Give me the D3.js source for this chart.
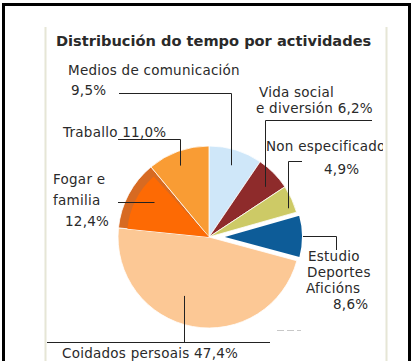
<!DOCTYPE html>
<html>
<head>
<meta charset="utf-8">
<script src="https://cdn.jsdelivr.net/npm/d3@7"></script>
<style>
  html, body { margin: 0; padding: 0; background: #fff; }
  svg { display: block; }
  text { font-family: "DejaVu Sans", Verdana, sans-serif; fill: #2a2a2a; }
</style>
</head>
<body>
<svg id="chart" width="412" height="361"></svg>
<script>
// Time distribution by activity (percent of the day)
const categories = [
  "Medios de comunicación",
  "Vida social e diversión",
  "Non especificado",
  "Estudio Deportes Aficións",
  "Coidados persoais",
  "Fogar e familia",
  "Traballo"
];
const values = [9.5, 6.2, 4.9, 8.6, 47.4, 12.4, 11.0];
const colors = ["#cfe7f9", "#8e2b2b", "#cdca66", "#0d5c98", "#fcc895", "#d76a22", "#f99c34"];
const valueLabels = values.map(v => v.toFixed(1).replace(".", ",") + "%");

const svg = d3.select("#chart");
const W = 412, H = 361;

// outer black frame (left, top, right)
svg.append("path")
  .attr("d", `M3.5,${H} V4.5 H409.5 V${H}`)
  .attr("fill", "none").attr("stroke", "#000").attr("stroke-width", 3);

// inner panel edges
svg.append("line").attr("x1", 45.5).attr("x2", 45.5).attr("y1", 27).attr("y2", H)
  .attr("stroke", "#e6e6d6").attr("stroke-width", 2);
svg.append("line").attr("x1", 386.5).attr("x2", 386.5).attr("y1", 27).attr("y2", H)
  .attr("stroke", "#e6e6d6").attr("stroke-width", 2);

// title
svg.append("text")
  .attr("x", 56).attr("y", 46)
  .attr("font-size", 14.6).attr("font-weight", "bold")
  .text("Distribución do tempo por actividades");

// pie
const cx = 209, cy = 237, R = 91;
const pie = d3.pie().sort(null).value(d => d).startAngle(0).endAngle(2 * Math.PI);
const arcs = pie(values);
const explodeIndex = 3, explodeOffset = 12, explodeRadius = 82;

const g = svg.append("g").attr("transform", `translate(${cx},${cy})`);

arcs.forEach((a, i) => {
  let dx = 0, dy = 0, rr = R;
  if (i === explodeIndex) {
    const mid = (a.startAngle + a.endAngle) / 2;
    dx = explodeOffset * Math.sin(mid);
    dy = -explodeOffset * Math.cos(mid);
    rr = explodeRadius;
  }
  g.append("path")
    .attr("d", d3.arc().innerRadius(0).outerRadius(rr)(a))
    .attr("transform", `translate(${dx},${dy})`)
    .attr("fill", colors[i])
    .attr("stroke", "#fff").attr("stroke-width", i === explodeIndex ? 2 : 0.8)
    .attr("stroke-linejoin", "round");
});

// brighter inner face of the "Fogar e familia" wedge
{
  const a = arcs[5];
  const inner = { startAngle: a.startAngle, endAngle: a.endAngle - 0.05 };
  g.append("path")
    .attr("d", d3.arc().innerRadius(0).outerRadius(R - 9)(inner))
    .attr("fill", "#fd6a04");
}

// point on the pie at a given angle (degrees clockwise from 12 o'clock) and radius
function polar(deg, r) {
  const t = deg * Math.PI / 180;
  return [cx + r * Math.sin(t), cy - r * Math.cos(t)];
}

// labels: text lines and leader lines
const labelLayout = [
  { lines: [["Medios de comunicación", 68, 75], [valueLabels[0], 71, 95]],
    anchor: [17, 75], hx: 119, hy: 93.5 },
  { lines: [["Vida social", 259, 97], ["e diversión " + valueLabels[1], 256, 113]],
    anchor: [48, 75], hx: 372, hy: 120.5 },
  { lines: [["Non especificado", 266, 151], [valueLabels[2], 324, 174]],
    anchor: [70, 84], hx: 302, hy: 161.5 },
  { lines: [["Estudio", 308, 261], ["Deportes", 307, 277], ["Aficións", 306, 293], [valueLabels[3], 333, 309]],
    anchor: null },
  { lines: [["Coidados persoais " + valueLabels[4], 62, 358]],
    anchor: [203, 64], hx: 47, hx2: 270, hy: 342.5 },
  { lines: [["Fogar e", 53, 184], ["familia", 53, 205], [valueLabels[5], 65, 226]],
    anchor: [303, 66], hx: 118, hy: 202.5, flat: true },
  { lines: [["Traballo " + valueLabels[6], 63, 137]],
    anchor: [338, 77], hx: 118, hy: 139.5 }
];

// clip for text that runs past the panel edge
svg.append("clipPath").attr("id", "panel")
  .append("rect").attr("x", 46).attr("y", 0).attr("width", 337).attr("height", H);

const labels = svg.append("g").attr("clip-path", "url(#panel)");
const leaders = svg.append("g").attr("fill", "none").attr("stroke", "#222").attr("stroke-width", 1);

labelLayout.forEach((L, i) => {
  L.lines.forEach(([t, x, y]) => {
    labels.append("text").attr("x", x).attr("y", y)
      .attr("font-size", 13.5).attr("letter-spacing", 0.25).text(t);
  });
  if (L.anchor) {
    const [ax, ay] = polar(L.anchor[0], L.anchor[1]);
    const axr = Math.round(ax) + 0.5;
    if (L.flat) {
      leaders.append("path").attr("d", `M${L.hx},${L.hy} H${axr}`);
    } else if (L.hx2 !== undefined) {
      leaders.append("path").attr("d", `M${L.hx},${L.hy} H${L.hx2}`);
      leaders.append("path").attr("d", `M${axr},${ay} V${L.hy}`);
    } else {
      leaders.append("path").attr("d", `M${L.hx},${L.hy} H${axr} V${ay}`);
    }
  }
});

// leader for the exploded wedge: from its outer edge, right, then down
{
  const a = arcs[explodeIndex];
  const mid = (a.startAngle + a.endAngle) / 2;
  const ex = cx + (explodeOffset + explodeRadius) * Math.sin(mid);
  const ey = Math.round(cy - (explodeOffset + explodeRadius) * Math.cos(mid)) + 0.5;
  leaders.append("path").attr("d", `M${ex},${ey} H336.5 V250`);
}

// faint stray rule below the pie
svg.append("line").attr("x1", 277).attr("x2", 301).attr("y1", 330.5).attr("y2", 330.5)
  .attr("stroke", "#c8c8c8").attr("stroke-width", 1).attr("stroke-dasharray", "7,3");
</script>
</body>
</html>
